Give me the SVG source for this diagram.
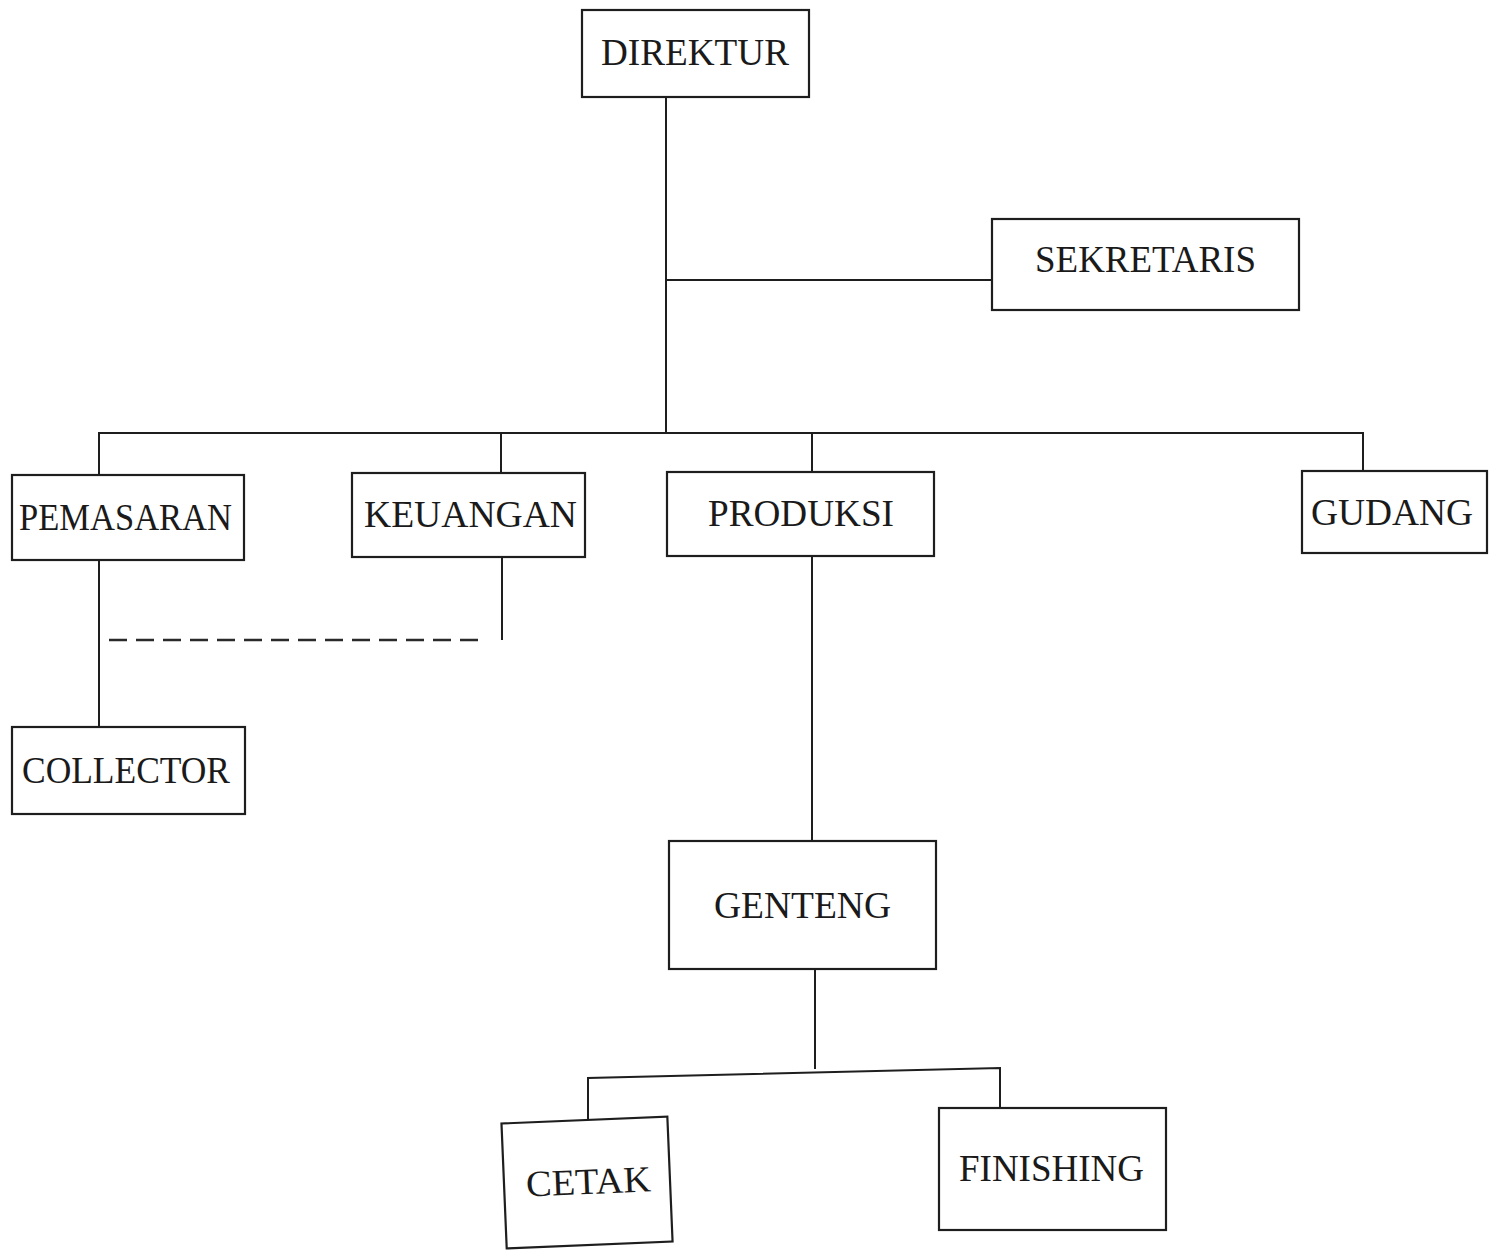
<svg xmlns="http://www.w3.org/2000/svg" width="1494" height="1257" viewBox="0 0 1494 1257">
<style>
.box{fill:#fff;stroke:#1e1e1e;stroke-width:2.2}
.ln{fill:none;stroke:#1e1e1e;stroke-width:2}
.dash{fill:none;stroke:#2a2a2a;stroke-width:2.5;stroke-dasharray:18 9}
.lbl{font-family:"Liberation Serif","Times New Roman",serif;font-size:37px;fill:#1a1a1a}
</style>
<rect width="1494" height="1257" fill="#fff"/>
<g id="connectors">
<path class="ln" d="M666 97 V433"/>
<path class="ln" d="M666 280 H992"/>
<path class="ln" d="M99 474 V433 H1363 V471"/>
<path class="ln" d="M501 433 V473"/>
<path class="ln" d="M812 433 V472"/>
<path class="ln" d="M99 560 V727"/>
<path class="ln" d="M502 557 V640"/>
<path class="dash" d="M109 640 H485"/>
<path class="ln" d="M812 556 V841"/>
<path class="ln" d="M815 970 V1069"/>
<path class="ln" d="M588 1120 V1078 L1000 1068 V1108"/>
</g>
<g id="direktur"><rect class="box" x="582" y="10" width="227" height="87"/><text class="lbl" x="601" y="65" textLength="188" lengthAdjust="spacingAndGlyphs">DIREKTUR</text></g>
<g id="sekretaris"><rect class="box" x="992" y="219" width="307" height="91"/><text class="lbl" x="1035" y="272" textLength="221" lengthAdjust="spacingAndGlyphs">SEKRETARIS</text></g>
<g id="pemasaran"><rect class="box" x="12" y="475" width="232" height="85"/><text class="lbl" x="19" y="530" textLength="213" lengthAdjust="spacingAndGlyphs">PEMASARAN</text></g>
<g id="keuangan"><rect class="box" x="352" y="473" width="233" height="84"/><text class="lbl" x="364" y="527" textLength="213" lengthAdjust="spacingAndGlyphs">KEUANGAN</text></g>
<g id="produksi"><rect class="box" x="667" y="472" width="267" height="84"/><text class="lbl" x="708" y="526" textLength="186" lengthAdjust="spacingAndGlyphs">PRODUKSI</text></g>
<g id="gudang"><rect class="box" x="1302" y="471" width="185" height="82"/><text class="lbl" x="1311" y="525" textLength="162" lengthAdjust="spacingAndGlyphs">GUDANG</text></g>
<g id="collector"><rect class="box" x="12" y="727" width="233" height="87"/><text class="lbl" x="22" y="783" textLength="208" lengthAdjust="spacingAndGlyphs">COLLECTOR</text></g>
<g id="genteng"><rect class="box" x="669" y="841" width="267" height="128"/><text class="lbl" x="714" y="918" textLength="177" lengthAdjust="spacingAndGlyphs">GENTENG</text></g>
<g id="cetak" transform="rotate(-2.4 587 1182)"><rect class="box" x="504" y="1120" width="166" height="125"/><text class="lbl" x="526" y="1194" textLength="125" lengthAdjust="spacingAndGlyphs">CETAK</text></g>
<g id="finishing"><rect class="box" x="939" y="1108" width="227" height="122"/><text class="lbl" x="959" y="1181" textLength="185" lengthAdjust="spacingAndGlyphs">FINISHING</text></g>
</svg>
